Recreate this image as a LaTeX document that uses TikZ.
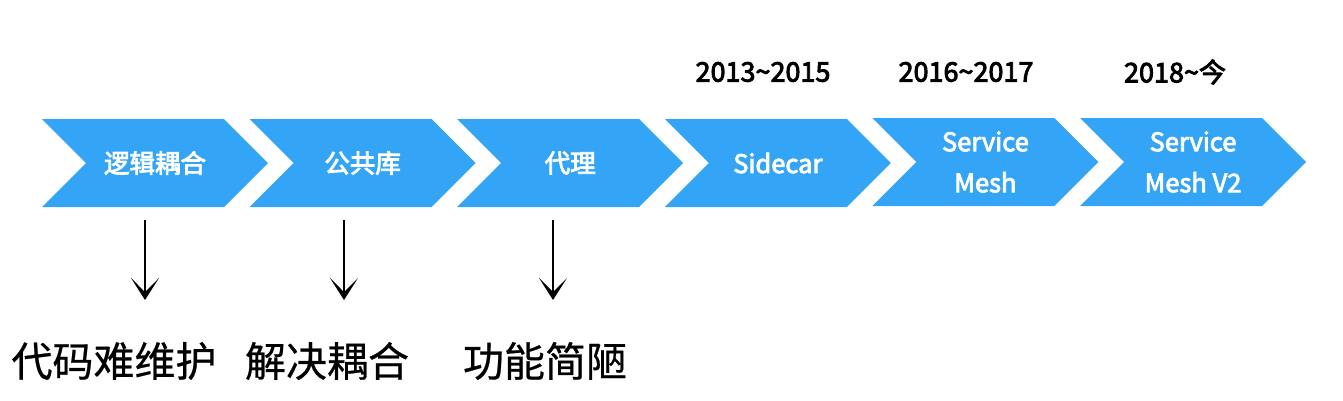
\documentclass[tikz,border=0pt]{standalone}
\usepackage{fontspec}
\setmainfont{Noto Sans CJK SC}
\newfontfamily\cjk{Noto Sans CJK SC}
\newfontfamily\cjkm{Noto Sans CJK SC}[FakeBold=3.2]
\newfontfamily\cjkn{Noto Sans CJK SC}[FakeBold=0.6]
\usetikzlibrary{shapes.symbols,arrows.meta}
\definecolor{chev}{RGB}{52,164,247}
\tikzset{
  chevron/.style={shape=signal, signal from=west, signal to=east, signal pointer angle=90,
    fill=chev, draw=none, minimum width=226, minimum height=88, inner sep=0, outer sep=0,
    text=white, font=\cjkm\fontsize{25.5}{41}\selectfont, align=center},
  year/.style={font=\cjkm\fontsize{27}{30}\selectfont, text=black, inner sep=0},
  note/.style={font=\cjkn\fontsize{41}{44}\selectfont, text=black, inner sep=0},
  down/.style={line width=1.8pt, -{Stealth[length=22, width=28, inset=14]}}
}
\begin{document}
\begin{tikzpicture}[x=1pt,y=-1pt]
\useasboundingbox (0,0) rectangle (1343,400);
\node[chevron] (c1) at (155,163) {逻辑耦合};
\node[chevron] (c2) at (362.6,163) {公共库};
\node[chevron] (c3) at (570.2,163) {代理};
\node[chevron] (c4) at (777.8,163) {Sidecar};
\node[chevron] (c5) at (985.4,162) {Service\\Mesh};
\node[chevron] (c6) at (1193,162) {Service\\Mesh V2};
\node[year] (y4) at (763,72) {2013\char"007E 2015};
\node[year] (y5) at (966,72) {2016\char"007E 2017};
\node[year] (y6) at (1175,72) {2018\char"007E 今};
\node[note] (n1) at (114,361) {代码难维护};
\node[note] (n2) at (327,361) {解决耦合};
\node[note] (n3) at (545,361) {功能简陋};
\coordinate (a1s) at (145,220); \coordinate (a1e) at (145,300);
\coordinate (a2s) at (344,220); \coordinate (a2e) at (344,300);
\coordinate (a3s) at (553,220); \coordinate (a3e) at (553,300);
\draw[down] (a1s) -- (a1e);
\draw[down] (a2s) -- (a2e);
\draw[down] (a3s) -- (a3e);
\end{tikzpicture}
\end{document}
